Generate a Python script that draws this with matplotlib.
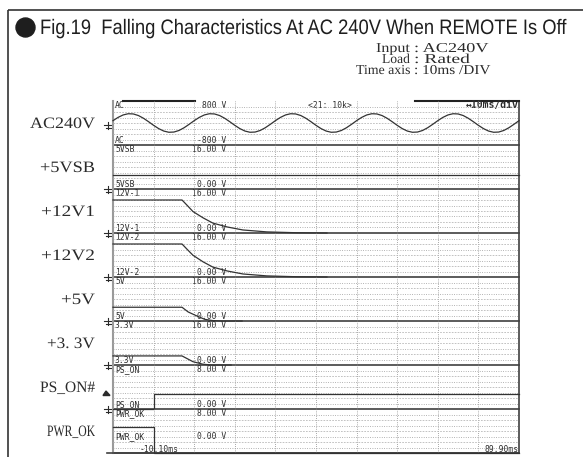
import numpy as np
import matplotlib
matplotlib.use("Agg")
import matplotlib.pyplot as plt
from matplotlib.patches import Circle, Polygon
from matplotlib.patheffects import AbstractPathEffect
from matplotlib.transforms import Affine2D

W, H = 583, 457

# ---- data -------------------------------------------------------------
t_start, t_end = -10.10, 89.90          # ms, record window

# AC input, sampled every 1.25 ms (V)
ac_t = np.linspace(t_start, t_end, 81)
ac_v = [85, 204, 293, 337, 329, 272, 173, 48, -85, -204, -293, -337, -329, -272, -173, -48,
        85, 204, 293, 337, 329, 272, 173, 48, -85, -204, -293, -337, -329, -272, -173, -48,
        85, 204, 293, 337, 329, 272, 173, 48, -85, -204, -293, -337, -329, -272, -173, -48,
        85, 204, 293, 337, 329, 272, 173, 48, -85, -204, -293, -337, -329, -272, -173, -48,
        85, 204, 293, 337, 329, 272, 173, 48, -85, -204, -293, -337, -329, -272, -173, -48,
        85]

vsb_t = [-10.10, 89.90]
vsb_v = [5.0, 5.0]

v12_t = [-10.10, 6.9, 8.2, 9.6, 12.1, 14.5, 18.0, 21.9, 27.8, 35.0, 42.6]
v12a_v = [12.0, 12.0, 10.0, 7.8, 5.5, 3.6, 2.2, 1.1, 0.4, 0.1, 0.0]
v12b_v = [12.0, 12.0, 10.0, 7.9, 5.5, 3.6, 2.2, 1.1, 0.4, 0.1, 0.0]

v5_t = [-10.10, 6.9, 8.4, 10.6, 12.5, 14.5, 16.8, 21.7]
v5_v = [5.0, 5.0, 3.3, 1.8, 0.6, 0.15, 0.0, 0.0]

v33_t = [-10.10, 6.9, 9.6, 12.0, 14.0, 19.0]
v33_v = [3.3, 3.3, 1.2, 0.3, 0.0, 0.0]

pson_t = [-10.10, 0.0, 0.0, 89.90]
pson_v = [0.0, 0.0, 2.8, 2.8]

pwrok_t = [-10.10, 0.0, 0.0, 89.90]
pwrok_v = [4.7, 4.7, 0.0, 0.0]

side_labels = ["AC240V", "+5VSB", "+12V1", "+12V2", "+5V", "+3. 3V", "PS_ON#", "PWR_OK"]
ch_names = ["AC", "5VSB", "12V-1", "12V-2", "5V", "3.3V", "PS_ON", "PWR_OK"]
ch_top = ["800 V", "16.00 V", "16.00 V", "16.00 V", "16.00 V", "16.00 V", "8.00 V", "8.00 V"]
ch_bot = ["-800 V", "0.00 V", "0.00 V", "0.00 V", "0.00 V", "0.00 V", "0.00 V", "0.00 V"]
ch_range = [(-800, 800), (0, 16), (0, 16), (0, 16), (0, 16), (0, 16), (0, 8), (0, 8)]
traces = [(ac_t, ac_v), (vsb_t, vsb_v), (v12_t, v12a_v), (v12_t, v12b_v),
          (v5_t, v5_v), (v33_t, v33_v), (pson_t, pson_v), (pwrok_t, pwrok_v)]

cond_keys = ["Input", "Load", "Time axis"]
cond_vals = [": AC240V", ": Rated", ": 10ms /DIV"]

# ---- layout (pixels, y downward) --------------------------------------
PX0, PX1 = 113, 519
PY0, CH_H = 101, 44
n_ch = len(ch_names)

side_w = [65, 55, 54, 54, 34, 48, 55, 48]        # printed widths of side labels
key_w = [34, 28, 54]
val_w = [74, 56, 76]

fig = plt.figure(figsize=(W / 100, H / 100), dpi=100)
fig.patch.set_facecolor("white")
renderer = fig.canvas.get_renderer()

# overlay in pixel coordinates for frame and annotation
ov = fig.add_axes([0, 0, 1, 1], zorder=0)
ov.set_xlim(0, W)
ov.set_ylim(H, 0)
ov.axis("off")

mono = "DejaVu Sans Mono"
serif = ["Liberation Serif", "DejaVu Serif"]
sans = ["Liberation Sans", "DejaVu Sans"]
INK = "#2b2b2b"


class Stretch(AbstractPathEffect):
    """Scale glyph outlines about an anchor point (display coordinates)."""

    def __init__(self, sx, sy, x0, y0):
        super().__init__()
        self.sx, self.sy, self.x0, self.y0 = sx, sy, x0, y0

    def draw_path(self, renderer, gc, tpath, affine, rgbFace=None):
        aff = affine + Affine2D().translate(-self.x0, -self.y0) \
            .scale(self.sx, self.sy).translate(self.x0, self.y0)
        renderer.draw_path(gc, tpath, aff, rgbFace)


def fitted_text(x, y, s, width, cap, size, cap_ratio, ha="left", **kw):
    """Text at baseline (x, y) whose glyphs span `width` px with cap height `cap` px."""
    t = ov.text(x, y, s, fontsize=size, ha=ha, va="baseline", **kw)
    w0 = t.get_window_extent(renderer).width
    sx = width / w0
    sy = cap / (cap_ratio * size * 100 / 72)
    t.set_path_effects([Stretch(sx, sy, x, H - y)])
    return t


# outer frame
ov.plot([8, W + 2], [10, 10], color="#333333", lw=1.2, solid_capstyle="butt")
ov.plot([8, 8], [10, H + 2], color="#333333", lw=1.2, solid_capstyle="butt")

# title
ov.add_patch(Circle((25.5, 27.5), 9.5, color="#1e1e1e"))
fitted_text(40, 34, "Fig.19  Falling Characteristics At AC 240V When REMOTE Is Off",
            width=528, cap=15, size=11.5, cap_ratio=0.716, family=sans, color="#1e1e1e")

# test conditions
for i in range(3):
    yb = 52 + 11 * i
    fitted_text(410, yb, cond_keys[i], width=key_w[i], cap=9, size=6.5, cap_ratio=0.662,
                ha="right", family=serif, color=INK)
    fitted_text(414, yb, cond_vals[i], width=val_w[i], cap=9, size=6.5, cap_ratio=0.662,
                ha="left", family=serif, color=INK)

# channels
for i in range(n_ch):
    top = PY0 + i * CH_H
    bot = top + CH_H
    ax = fig.add_axes([PX0 / W, 1 - bot / H, (PX1 - PX0) / W, CH_H / H], zorder=2)
    ax.patch.set_alpha(0)
    lo, hi = ch_range[i]
    ax.set_xlim(t_start, t_end)
    ax.set_ylim(lo, hi)
    ax.axis("off")
    # grid
    for g in np.arange(-0.1, 80, 10):
        ax.axvline(g, color="#8a8a8a", lw=0.6, ls=(0, (1, 1.6)), zorder=1)
    for j in range(1, 8):
        yv = lo + (hi - lo) * j / 8
        ax.axhline(yv, color="#9a9a9a" if j % 2 else "#b8b8b8", lw=0.6,
                   ls=(0, (1, 1.8)) if j % 2 else (0, (2, 1.5)), zorder=1)
    tt, vv = traces[i]
    ax.plot(tt, vv, color="#333333", lw=0.9, clip_on=False, zorder=3)

    # side label
    fitted_text(95, top + 22 + 5, side_labels[i], width=side_w[i], cap=10.5, size=9,
                cap_ratio=0.662, ha="right", family=serif, color=INK)
    # in-panel labels
    ov.text(115, top + 7.5, ch_names[i], family=mono, fontsize=5.8, color=INK, va="baseline")
    ov.text(226, top + 7.5, ch_top[i], family=mono, fontsize=5.8, color=INK, va="baseline", ha="right")
    yb = bot - 2 if i < n_ch - 1 else bot - 14
    ov.text(115, yb, ch_names[i], family=mono, fontsize=5.8, color=INK, va="baseline")
    ov.text(226, yb, ch_bot[i], family=mono, fontsize=5.8, color=INK, va="baseline", ha="right")

    # divider under each channel
    ov.plot([PX0, PX1], [bot, bot], color="#404040", lw=1.2, zorder=2)

    # ground marker at the channel's zero level
    gy = top + CH_H / 2 + 2 if i == 0 else bot
    if i < n_ch - 1:
        ov.plot([104, 112], [gy, gy], color=INK, lw=0.8)
        ov.plot([108, 108], [gy - 3.5, gy + 3.5], color=INK, lw=0.8)
        ov.plot([105.5, 110.5], [gy + 2.5, gy + 2.5], color=INK, lw=0.8)

# PS_ON level marker
ov.add_patch(Polygon([[103, 395.5], [110, 395.5], [106, 391]], closed=True, color=INK))

# extra annotations on the AC channel and time axis
ov.text(308, 108, "<21: 10k>", family=mono, fontsize=5.8, color=INK, va="baseline")
ov.text(PX1, 108, "\u219410ms/div", family=mono, fontsize=7, weight="bold",
        color=INK, va="baseline", ha="right")
ov.text(140, 452, "-10.10ms", family=mono, fontsize=5.8, color=INK, va="baseline")
ov.text(PX1, 452, "89.90ms", family=mono, fontsize=5.8, color=INK, va="baseline", ha="right")

# panel borders
bottom_y = PY0 + n_ch * CH_H
ov.plot([PX0, PX0], [PY0, bottom_y], color="#9a9a9a", lw=1.5)
ov.plot([PX1, PX1], [PY0, bottom_y], color="#404040", lw=1.2)
ov.plot([107, PX1], [bottom_y, bottom_y], color="#404040", lw=1.2)
ov.plot([123, 195], [PY0, PY0], color="#222222", lw=1.5)
ov.plot([415, PX1], [PY0, PY0], color="#222222", lw=1.5)

fig.savefig("out.png", dpi=100)
